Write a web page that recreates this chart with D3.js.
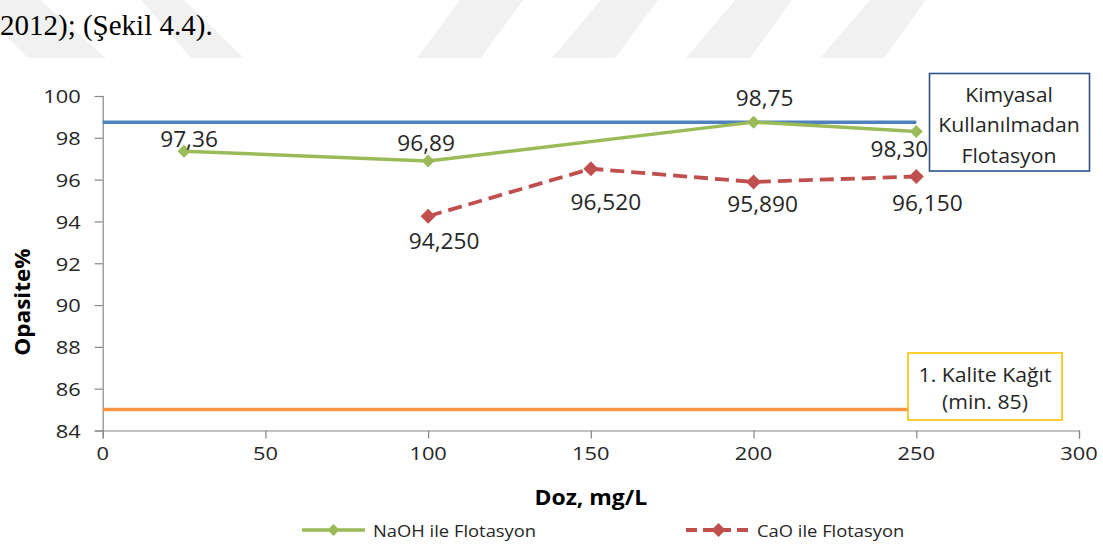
<!DOCTYPE html>
<html>
<head>
<meta charset="utf-8">
<script src="https://cdn.jsdelivr.net/npm/d3@7"></script>
<style>
  html, body { margin: 0; padding: 0; background: #fff; }
  svg { display: block; }
</style>
</head>
<body>
<svg id="chart" width="1103" height="547"></svg>
<script>
// ---- data ----
const naohDoses  = [25, 100, 200, 250];
const naohValues = [97.36, 96.89, 98.75, 98.30];
const naohLabels = ["97,36", "96,89", "98,75", "98,30"];

const caoDoses  = [100, 150, 200, 250];
const caoValues = [94.25, 96.52, 95.89, 96.15];
const caoLabels = ["94,250", "96,520", "95,890", "96,150"];

const xTicks = [0, 50, 100, 150, 200, 250, 300];
const yTicks = [84, 86, 88, 90, 92, 94, 96, 98, 100];

// reference levels: no-chemical flotation and 1st quality paper minimum
const refNoChemical = { value: 98.75, from: 0, to: 250 };
const refPaperMin   = { value: 85, from: 0, to: 250 };

const seriesNames = ["NaOH ile Flotasyon", "CaO ile Flotasyon"];

// ---- layout ----
const W = 1103, H = 547;
const plot = { left: 102.7, right: 1079, top: 96, bottom: 430.5 };
const FONT = "'Open Sans', 'Noto Sans', sans-serif";

// label nudges relative to each marker (pixels)
const naohLabelOffsets = [[5, -12], [-2, -18], [11, -24], [-17, 17]];
const caoLabelOffsets  = [[16, 25], [15, 33], [9, 22], [11, 26]];

const colors = {
  naoh: "#9bbb59", cao: "#c0504d", blue: "#4f81bd", orange: "#f79646",
  axis: "#868686", text: "#262626", boxBlue: "#2f528f", boxGold: "#ffc000"
};

const svg = d3.select("#chart");

const x = d3.scaleLinear().domain([0, 300]).range([plot.left, plot.right]);
const y = d3.scaleLinear().domain([84, 100]).range([plot.bottom, plot.top]);

// text helper: horizontally widened glyphs like the original document rendering
function addText(parent, str, px, py, opts) {
  const o = Object.assign({ size: 20, sx: 1.1, anchor: "middle", weight: "normal",
    fill: colors.text, family: FONT, rotate: 0, baseline: "central" }, opts || {});
  return parent.append("text")
    .attr("transform", `translate(${px},${py}) rotate(${o.rotate}) scale(${o.sx},1)`)
    .attr("text-anchor", o.anchor)
    .attr("dominant-baseline", o.baseline)
    .attr("font-family", o.family)
    .attr("font-size", o.size)
    .attr("font-weight", o.weight)
    .attr("fill", o.fill)
    .text(str);
}

// ---- faint page watermark at the top ----
const wm = svg.append("g").attr("fill", "#f1f1f1");
const wmShapes = [
  [[-30, 0], [40, 0], [106, 58], [28, 58]],
  [[141, 0], [184, 0], [244, 58], [191, 58]],
  [[460, 0], [523, 0], [481, 58], [417, 58]],
  [[601, 0], [658, 0], [615, 58], [552, 58]],
  [[735, 0], [792, 0], [750, 58], [686, 58]],
  [[870, 0], [926, 0], [884, 58], [820, 58]]
];
wm.selectAll("polygon").data(wmShapes).join("polygon")
  .attr("points", d => d.map(p => p.join(",")).join(" "));

// ---- document text above the chart ----
addText(svg, "2012); (Şekil 4.4).", 0, 35, {
  size: 29, sx: 1, anchor: "start", baseline: "alphabetic",
  family: "'Liberation Serif', 'Times New Roman', serif", fill: "#000"
});

// ---- axes ----
const yAxis = d3.axisLeft(y).tickValues(yTicks).tickSize(8).tickPadding(14).tickFormat(d3.format("d"));
const xAxis = d3.axisBottom(x).tickValues(xTicks).tickSize(8).tickPadding(8).tickFormat(d3.format("d"));

const gy = svg.append("g").attr("transform", `translate(${plot.left},0)`).call(yAxis);
const gx = svg.append("g").attr("transform", `translate(0,${plot.bottom})`).call(xAxis);

[gx, gy].forEach(g => {
  g.select(".domain").attr("stroke", colors.axis).attr("stroke-width", 1.2);
  g.selectAll(".tick line").attr("stroke", colors.axis).attr("stroke-width", 1.2);
  g.selectAll(".tick text").remove();
});
// tick labels (widened like the rest of the chart text)
yTicks.forEach(v => addText(svg, String(v), plot.left - 22, y(v), { size: 19, sx: 1.15, anchor: "end" }));
xTicks.forEach(v => addText(svg, String(v), x(v), plot.bottom + 22, { size: 19, sx: 1.15 }));

// axis titles
addText(svg, "Opasite%", 22, 302, { size: 20.5, sx: 1.1, weight: "bold", rotate: -90, fill: "#000" });
addText(svg, "Doz, mg/L", (plot.left + plot.right) / 2, 497, { size: 20.5, sx: 1.12, weight: "bold", fill: "#000" });

// ---- reference lines ----
svg.append("line")
  .attr("x1", x(refNoChemical.from)).attr("x2", x(refNoChemical.to))
  .attr("y1", y(refNoChemical.value)).attr("y2", y(refNoChemical.value))
  .attr("stroke", colors.blue).attr("stroke-width", 3.5);
svg.append("line")
  .attr("x1", x(refPaperMin.from)).attr("x2", x(refPaperMin.to))
  .attr("y1", y(refPaperMin.value)).attr("y2", y(refPaperMin.value))
  .attr("stroke", colors.orange).attr("stroke-width", 3.5);

// ---- series ----
const naoh = naohDoses.map((d, i) => ({ x: d, y: naohValues[i], label: naohLabels[i], off: naohLabelOffsets[i] }));
const cao  = caoDoses.map((d, i) => ({ x: d, y: caoValues[i], label: caoLabels[i], off: caoLabelOffsets[i] }));

const line = d3.line().x(d => x(d.x)).y(d => y(d.y));
const diamond = r => `M0,${-r}L${r},0L0,${r}L${-r},0Z`;

svg.append("path").datum(naoh).attr("d", line)
  .attr("fill", "none").attr("stroke", colors.naoh).attr("stroke-width", 3.5)
  .attr("stroke-linejoin", "round");
svg.append("path").datum(cao).attr("d", line)
  .attr("fill", "none").attr("stroke", colors.cao).attr("stroke-width", 3.8)
  .attr("stroke-dasharray", "14,7");

svg.selectAll("path.m-naoh").data(naoh).join("path").attr("class", "m-naoh")
  .attr("transform", d => `translate(${x(d.x)},${y(d.y)})`)
  .attr("d", diamond(6.5)).attr("fill", colors.naoh);
svg.selectAll("path.m-cao").data(cao).join("path").attr("class", "m-cao")
  .attr("transform", d => `translate(${x(d.x)},${y(d.y)})`)
  .attr("d", diamond(7.5)).attr("fill", colors.cao);

// data labels
naoh.forEach(d => addText(svg, d.label, x(d.x) + d.off[0], y(d.y) + d.off[1], { size: 21, sx: 1.08 }));
cao.forEach(d => addText(svg, d.label, x(d.x) + d.off[0], y(d.y) + d.off[1], { size: 21, sx: 1.08 }));

// ---- annotation boxes ----
svg.append("rect").attr("x", 929.5).attr("y", 73.5).attr("width", 160).attr("height", 97.5)
  .attr("fill", "#fff").attr("stroke", colors.boxBlue).attr("stroke-width", 1.6);
["Kimyasal", "Kullanılmadan", "Flotasyon"].forEach((t, i) =>
  addText(svg, t, 1009, 94 + i * 30.5, { size: 19.5, sx: 1.09 }));

svg.append("rect").attr("x", 908).attr("y", 353).attr("width", 154).attr("height", 67)
  .attr("fill", "#fff").attr("stroke", colors.boxGold).attr("stroke-width", 1.6);
["1. Kalite Kağıt", "(min. 85)"].forEach((t, i) =>
  addText(svg, t, 985, 374 + i * 27, { size: 19.5, sx: 1.09 }));

// ---- legend ----
const leg = svg.append("g");
const legY = 530;
leg.append("line").attr("x1", 302).attr("x2", 365).attr("y1", legY).attr("y2", legY)
  .attr("stroke", colors.naoh).attr("stroke-width", 3.5);
leg.append("path").attr("transform", `translate(333.5,${legY})`).attr("d", diamond(6)).attr("fill", colors.naoh);
addText(leg, seriesNames[0], 373, legY, { size: 17, sx: 1.08, anchor: "start" });

leg.append("line").attr("x1", 686).attr("x2", 751).attr("y1", legY).attr("y2", legY)
  .attr("stroke", colors.cao).attr("stroke-width", 3.8).attr("stroke-dasharray", "11,6");
leg.append("path").attr("transform", `translate(718.5,${legY})`).attr("d", diamond(7)).attr("fill", colors.cao);
addText(leg, seriesNames[1], 757, legY, { size: 17, sx: 1.08, anchor: "start" });
</script>
</body>
</html>
